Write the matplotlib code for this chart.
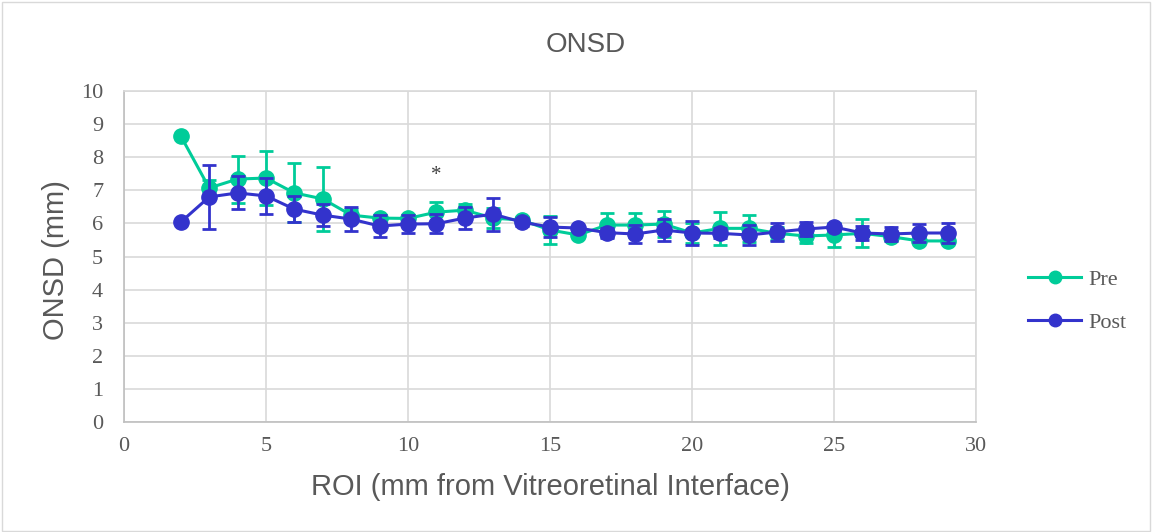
import matplotlib
matplotlib.use("Agg")
import matplotlib.pyplot as plt
from matplotlib.patches import Rectangle
from matplotlib.lines import Line2D

roi = [2, 3, 4, 5, 6, 7, 8, 9, 10, 11, 12, 13, 14, 15, 16, 17, 18, 19, 20,
       21, 22, 23, 24, 25, 26, 27, 28, 29]
pre = [8.64, 7.07, 7.34, 7.37, 6.92, 6.74, 6.25, 6.16, 6.15, 6.34, 6.40, 6.16,
       6.10, 5.80, 5.65, 5.95, 5.95, 5.98, 5.71, 5.85, 5.85, 5.70, 5.62, 5.65,
       5.70, 5.60, 5.47, 5.47]
pre_err = [0.0, 0.24, 0.71, 0.82, 0.89, 0.97, 0.2, 0.1, 0.1, 0.3, 0.2, 0.3,
           0.1, 0.42, 0.05, 0.36, 0.36, 0.39, 0.3, 0.5, 0.4, 0.2, 0.2, 0.35,
           0.42, 0.1, 0.05, 0.05]
post = [6.04, 6.80, 6.92, 6.83, 6.43, 6.25, 6.13, 5.92, 5.98, 5.99, 6.16, 6.28,
        6.04, 5.89, 5.86, 5.72, 5.68, 5.80, 5.71, 5.70, 5.65, 5.74, 5.83, 5.89,
        5.71, 5.68, 5.71, 5.71]
post_err = [0.0, 0.97, 0.5, 0.55, 0.4, 0.33, 0.36, 0.33, 0.27, 0.28, 0.33, 0.5,
            0.12, 0.3, 0.05, 0.15, 0.27, 0.33, 0.37, 0.15, 0.3, 0.26, 0.2, 0.1,
            0.2, 0.2, 0.28, 0.3]

green = "#00CC99"
blue = "#3333CC"
txt = "#595959"
gridc = "#D9D9D9"

fig = plt.figure(figsize=(11.52, 5.32), dpi=100)
fig.patches.append(Rectangle((0.0015, 0.002), 0.997, 0.995, transform=fig.transFigure,
                             fill=False, edgecolor="#D9D9D9", linewidth=1))
ax = fig.add_axes([124/1152, 1 - 422/532, (976-124)/1152, (422-91)/532])

ax.errorbar(roi, pre, yerr=pre_err, color=green, marker="o", markersize=11,
            linewidth=2.2, elinewidth=2, capsize=5, capthick=2, zorder=3)
ax.errorbar(roi, post, yerr=post_err, color=blue, marker="o", markersize=11,
            linewidth=2.2, elinewidth=2, capsize=5, capthick=2, zorder=4)

ax.text(11, 7.45, "*", ha="center", va="center", fontsize=15, color="#404040",
        family="Liberation Serif")

ax.set_xlim(0, 30)
ax.set_ylim(0, 10)
ax.set_xticks(range(0, 31, 5))
ax.set_yticks(range(0, 11, 1))
ax.grid(True, color=gridc, linewidth=1.2)
ax.set_axisbelow(True)
for s in ax.spines.values():
    s.set_color(gridc)
    s.set_linewidth(1.2)
ax.spines["left"].set_color("#BFBFBF")
ax.spines["bottom"].set_color("#BFBFBF")
ax.tick_params(axis="y", length=0, labelsize=16, colors=txt, pad=15)
ax.tick_params(axis="x", length=0, labelsize=16, colors=txt, pad=11)
for lab in ax.get_xticklabels() + ax.get_yticklabels():
    lab.set_family("Liberation Serif")

fig.text(586/1152, 1 - 45/532, "ONSD", ha="center", va="center", fontsize=20,
         color=txt, family="Liberation Sans")
fig.text(550/1152, 1 - 487/532, "ROI (mm from Vitreoretinal Interface)", ha="center",
         va="center", fontsize=21, color=txt, family="Liberation Sans")
fig.text(56/1152, 1 - 260/532, "ONSD (mm)", ha="center", va="center", rotation=90,
         fontsize=21, color=txt, family="Liberation Sans")

handles = [Line2D([], [], color=green, marker="o", markersize=9, linewidth=2.2),
           Line2D([], [], color=blue, marker="o", markersize=9, linewidth=2.2)]
leg = fig.legend(handles, ["Pre", "Post"], loc="center left",
                 bbox_to_anchor=(1008/1152, 1 - 301/532), frameon=False,
                 prop={"family": "Liberation Serif", "size": 16}, labelcolor=txt,
                 handlelength=2.4, labelspacing=1.0, handletextpad=0.3)

fig.savefig("out.png", dpi=100)
